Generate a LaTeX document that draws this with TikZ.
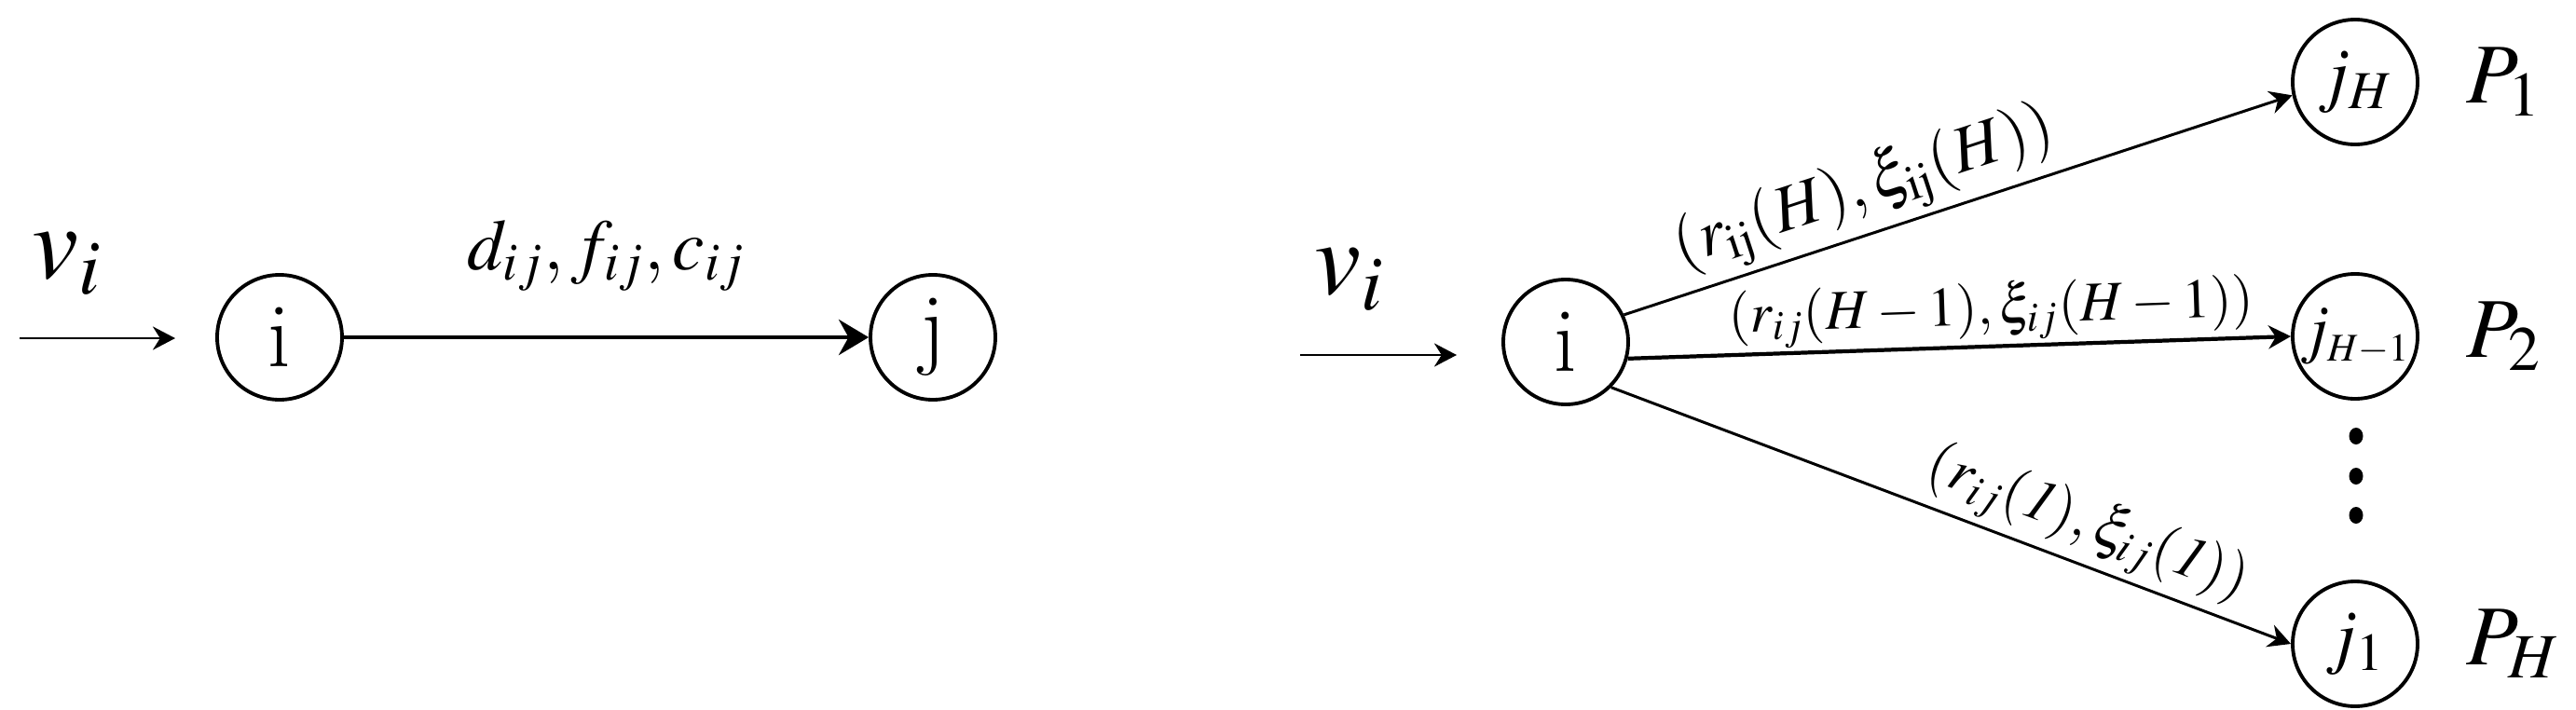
\documentclass[tikz,border=0pt]{standalone}
\usepackage{mathptmx}
\usepackage{tikz}
\usetikzlibrary{arrows.meta, positioning}

\begin{document}
\begin{tikzpicture}[
  vertex/.style={circle, draw, line width=1.1pt, minimum size=1.34cm, inner sep=0pt, font=\fontsize{28}{30}\selectfont},
  sink/.style={vertex, font=\fontsize{22}{24}\selectfont},
  path_tag/.style={font=\fontsize{26}{28}\selectfont, inner sep=0pt},
  flow_tag/.style={font=\fontsize{32}{34}\selectfont},
  rate/.style={sloped, above, inner sep=2pt},
  arrow/.style={-{Stealth[length=0.24cm, width=0.25cm]}, line width=0.85pt},
  heavy/.style={-{Stealth[length=0.32cm, width=0.38cm]}, line width=1.4pt}
]
\useasboundingbox (0,0) rectangle (27.64,7.61);

% Single link
\coordinate (in_left) at (0.21,3.98);
\coordinate (in_left_end) at (1.88,3.98);
\node[flow_tag] (v_left) at (0.72,4.78) {$v_i$};
\node[vertex] (src_i) at (3.00,3.99) {i};
\node[vertex] (dst_j) at (10.01,3.99) {j};

\draw[arrow] (in_left) -- (in_left_end);
\draw[heavy] (src_i) -- node[above=0.35cm, font=\fontsize{22}{24}\selectfont] (cost_tag) {$d_{ij},f_{ij},c_{ij}$} (dst_j);

% Parallel paths
\coordinate (in_right) at (13.95,3.80);
\coordinate (in_right_end) at (15.63,3.80);
\node[flow_tag] (v_right) at (14.48,4.61) {$v_i$};
\node[vertex] (hub_i) at (16.80,3.94) {i};

\node[sink] (j_high) at (25.27,6.73) {$j_H$};
\node[sink, font=\fontsize{20}{22}\selectfont] (j_mid) at (25.27,4.00) {$j_{\scriptscriptstyle H-1}$};
\node[sink] (j_low) at (25.27,0.70) {$j_1$};

\node[path_tag, right=0.5cm of j_high] (p_one) {$P_1$};
\node[path_tag, right=0.5cm of j_mid] (p_two) {$P_2$};
\node[path_tag, right=0.5cm of j_low] (p_last) {$P_H$};

\foreach \y in {2.93,2.50,2.08}
  \fill (25.28,\y) ellipse (0.075 and 0.09);

\draw[arrow] (in_right) -- (in_right_end);
\draw[arrow] (hub_i.25) -- node[rate, pos=0.38, font=\fontsize{20}{22}\selectfont] {$(r_{\mathrm{ij}}(H),\xi_{\mathrm{ij}}(H))$} (j_high.192);
\draw[arrow, line width=1.2pt] (hub_i.-15) -- node[rate, pos=0.55, inner sep=1pt, font=\fontsize{17}{19}\selectfont] {$(r_{ij}(H-1),\xi_{ij}(H-1))$} (j_mid.west);
\draw[arrow] (hub_i.-45) -- node[rate, pos=0.68, font=\fontsize{18}{20}\selectfont] {$(r_{ij}(\mathit{1}),\xi_{ij}(\mathit{1}))$} (j_low.west);

\end{tikzpicture}
\end{document}
